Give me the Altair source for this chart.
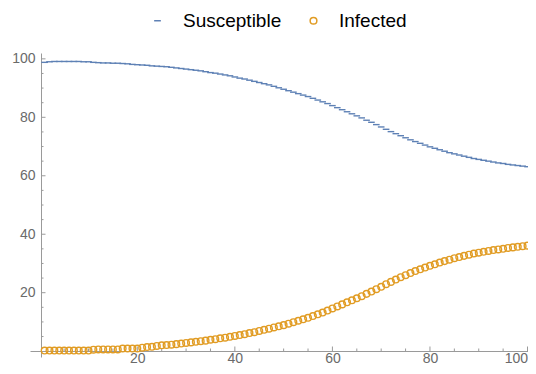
import altair as alt
import pandas as pd

# ---- data ----
x_values = list(range(1, 101))

susceptible = [
    98.8, 99.0, 99.1, 99.1, 99.1, 99.1, 99.1, 99.1, 99.0, 99.0,
    98.8, 98.7, 98.6, 98.6, 98.5, 98.5, 98.4, 98.3, 98.1, 98.0,
    97.9, 97.8, 97.6, 97.5, 97.4, 97.3, 97.1, 96.9, 96.7, 96.5,
    96.3, 96.1, 95.9, 95.6, 95.3, 95.1, 94.8, 94.5, 94.2, 93.8,
    93.4, 93.1, 92.7, 92.3, 91.9, 91.5, 91.1, 90.6, 90.1, 89.6,
    89.1, 88.6, 88.1, 87.6, 87.1, 86.5, 85.9, 85.3, 84.7, 84.0,
    83.3, 82.6, 81.9, 81.2, 80.5, 79.8, 79.0, 78.3, 77.5, 76.7,
    75.9, 75.1, 74.4, 73.7, 73.0, 72.3, 71.7, 71.1, 70.5, 69.9,
    69.4, 68.9, 68.4, 67.9, 67.5, 67.1, 66.7, 66.3, 65.9, 65.6,
    65.3, 65.0, 64.7, 64.4, 64.2, 63.9, 63.7, 63.5, 63.3, 63.1,
]

infected = [
    0.2, 0.2, 0.2, 0.2, 0.2, 0.2, 0.2, 0.2, 0.2, 0.2,
    0.5, 0.6, 0.6, 0.6, 0.6, 0.6, 0.9, 0.9, 0.9, 0.9,
    1.2, 1.4, 1.5, 1.8, 2.0, 2.1, 2.2, 2.4, 2.6, 2.8,
    3.0, 3.2, 3.4, 3.6, 3.9, 4.1, 4.4, 4.6, 4.9, 5.2,
    5.5, 5.8, 6.2, 6.5, 6.9, 7.3, 7.7, 8.1, 8.5, 8.9,
    9.4, 9.9, 10.4, 10.9, 11.4, 12.0, 12.6, 13.2, 13.9, 14.6,
    15.3, 16.0, 16.7, 17.4, 18.1, 18.8, 19.6, 20.4, 21.2, 22.0,
    22.9, 23.7, 24.5, 25.3, 26.0, 26.7, 27.4, 28.0, 28.6, 29.2,
    29.7, 30.3, 30.8, 31.3, 31.8, 32.2, 32.6, 33.0, 33.4, 33.7,
    34.0, 34.3, 34.6, 34.8, 35.0, 35.3, 35.5, 35.7, 35.9, 36.1,
]

series_names = ["Susceptible", "Infected"]
series_colors = ["#5E81B5", "#E19C24"]
series_shapes = ["stroke", "circle"]

major_ticks = [20, 40, 60, 80, 100]
minor_ticks = [5, 10, 15, 25, 30, 35, 45, 50, 55, 65, 70, 75, 85, 90, 95]

# ---- tables ----
df = pd.DataFrame({
    "t": x_values * 2,
    "value": susceptible + infected,
    "series": [series_names[0]] * len(x_values) + [series_names[1]] * len(x_values),
})
major_df = pd.DataFrame({"t": major_ticks, "value": major_ticks})
minor_df = pd.DataFrame({"t": minor_ticks, "value": minor_ticks})

W, H = 498, 304
AXIS_GRAY = "#9a9a9a"
LABEL_GRAY = "#6a6a6a"
FONT = "Liberation Sans"

xscale = alt.Scale(domain=[-2, 100.1], nice=False, zero=False)
yscale = alt.Scale(domain=[-2, 102], nice=False, zero=False)

xaxis = alt.Axis(values=major_ticks, ticks=False, tickSize=0, grid=False, title=None,
                 domainColor=AXIS_GRAY, domainWidth=1, labelColor=LABEL_GRAY,
                 labelFont=FONT, labelFontSize=14, labelPadding=0, offset=-6,
                 labelFlush=8)
yaxis = alt.Axis(values=major_ticks, ticks=False, tickSize=0, grid=False, title=None,
                 domainColor=AXIS_GRAY, domainWidth=1, labelColor=LABEL_GRAY,
                 labelFont=FONT, labelFontSize=14, labelPadding=6, offset=-11,
                 labelFlush=False)

def X(field="t"):
    return alt.X(f"{field}:Q", scale=xscale, axis=xaxis)

def Y(field="value"):
    return alt.Y(f"{field}:Q", scale=yscale, axis=yaxis)

legend = alt.Legend(orient="none", legendX=118, legendY=-42, direction="horizontal",
                    title=None, labelFont=FONT, labelFontSize=19, labelColor="#000000",
                    symbolSize=45, symbolStrokeWidth=1.5, labelOffset=16,
                    columnPadding=22, padding=0, symbolType="circle")

points = alt.Chart(df).mark_point(filled=False, strokeWidth=1.4, size=44, opacity=1).encode(
    x=X(), y=Y(),
    color=alt.Color("series:N", scale=alt.Scale(domain=series_names, range=series_colors),
                    legend=legend),
    shape=alt.Shape("series:N", scale=alt.Scale(domain=series_names, range=series_shapes),
                    legend=legend),
)

# y-axis sits 11px right of the plot's left edge, x-axis 6px above its bottom
y_major = alt.Chart(major_df).mark_rule(color=AXIS_GRAY, strokeWidth=1).encode(
    y=Y(), x=alt.value(11), x2=alt.value(15.5))
y_minor = alt.Chart(minor_df).mark_rule(color=AXIS_GRAY, strokeWidth=1).encode(
    y=Y(), x=alt.value(11), x2=alt.value(13.5))
x_major = alt.Chart(major_df).mark_rule(color=AXIS_GRAY, strokeWidth=1).encode(
    x=X(), y=alt.value(H - 6), y2=alt.value(H - 10.5))
x_minor = alt.Chart(minor_df).mark_rule(color=AXIS_GRAY, strokeWidth=1).encode(
    x=X(), y=alt.value(H - 6), y2=alt.value(H - 8.5))

chart = alt.layer(y_major, y_minor, x_major, x_minor, points).properties(
    width=W, height=H,
    autosize=alt.AutoSizeParams(type="none"),
    padding={"left": 22, "top": 45, "right": 0, "bottom": 9},
    background="white",
).configure_view(stroke=None)

chart.save("out.html", embed_options={"renderer": "svg", "actions": False})
